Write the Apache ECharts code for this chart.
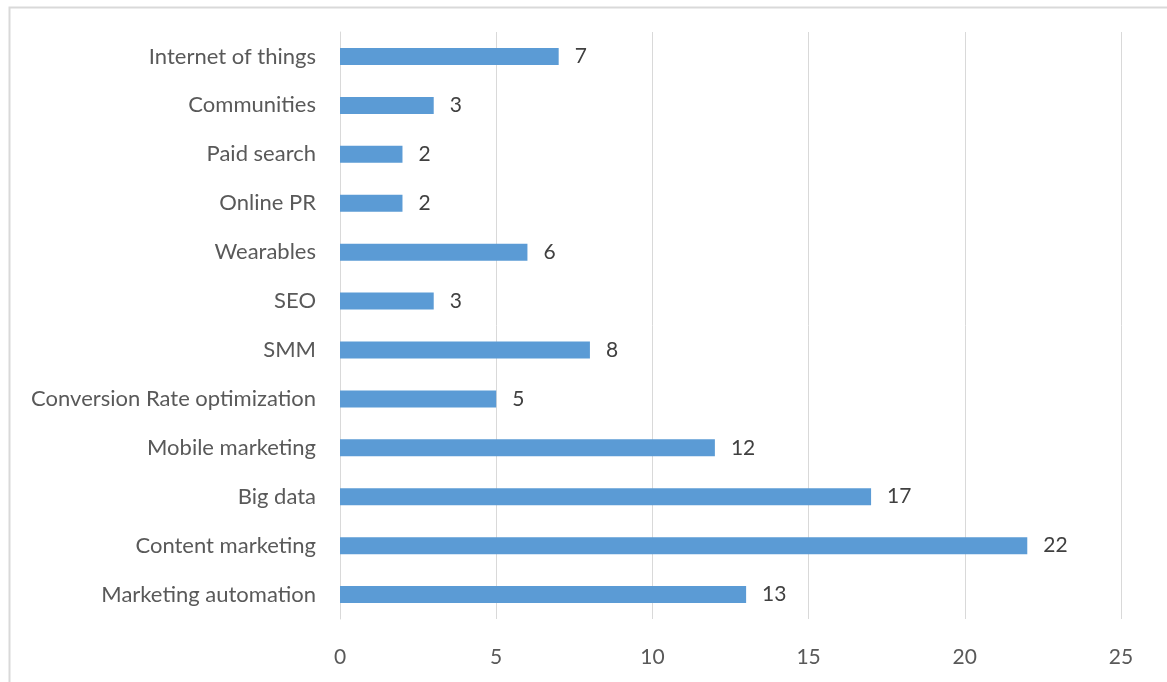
<!DOCTYPE html>
<html>
<head>
<meta charset="utf-8">
<script src="https://cdn.jsdelivr.net/npm/echarts@6/dist/echarts.min.js"></script>
<style>
  html, body { margin: 0; padding: 0; background: #fff; }
  #chart { width: 1167px; height: 682px; }
</style>
</head>
<body>
<div id="chart"></div>
<script>
// Topics, listed bottom to top as drawn on the category axis
const categories = [
  'Marketing automation',
  'Content marketing',
  'Big data',
  'Mobile marketing',
  'Conversion Rate optimization',
  'SMM',
  'SEO',
  'Wearables',
  'Online PR',
  'Paid search',
  'Communities',
  'Internet of things'
];
const counts = [13, 22, 17, 12, 5, 8, 3, 6, 2, 2, 3, 7];
const xTicks = [0, 5, 10, 15, 20, 25];

const fontFamily = 'Lato, "Open Sans", sans-serif';
const chart = echarts.init(document.getElementById('chart'));

chart.setOption({
  animation: false,
  backgroundColor: '#ffffff',
  graphic: [{
    type: 'rect',
    left: 7, top: 5,
    shape: { width: 1159, height: 690 },
    style: { fill: 'none', stroke: '#d9d9d9', lineWidth: 2 },
    silent: true
  }],
  grid: { left: 340, right: 46, top: 32, bottom: 63, containLabel: false },
  xAxis: {
    type: 'value',
    min: xTicks[0],
    max: xTicks[xTicks.length - 1],
    interval: xTicks[1] - xTicks[0],
    axisLine: { show: false },
    axisTick: { show: false },
    splitLine: { show: true, lineStyle: { color: '#d9d9d9', width: 1 } },
    axisLabel: { color: '#595959', fontSize: 21, fontFamily: fontFamily, margin: 28 }
  },
  yAxis: {
    type: 'category',
    data: categories,
    axisLine: { show: true, lineStyle: { color: '#d9d9d9', width: 1 } },
    axisTick: { show: false },
    axisLabel: { color: '#595959', fontSize: 22, fontFamily: fontFamily, margin: 24 }
  },
  series: [{
    type: 'bar',
    data: counts,
    barWidth: 17,
    itemStyle: { color: '#5b9bd5' },
    label: {
      show: true,
      position: 'right',
      distance: 16,
      color: '#404040',
      fontSize: 21,
      fontFamily: fontFamily
    }
  }]
});
</script>
</body>
</html>
